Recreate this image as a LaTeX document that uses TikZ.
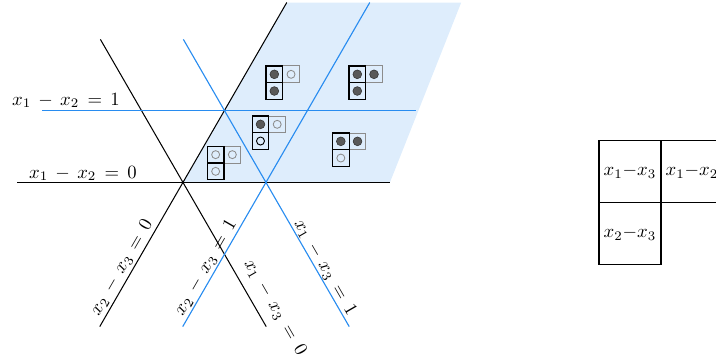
\documentclass[tikz,border=0pt]{standalone}
\usepackage{amsmath}
\usetikzlibrary{calc, positioning}
\definecolor{lineblue}{RGB}{40,140,240}
\definecolor{shadeblue}{RGB}{222,237,252}
\tikzset{wall/.style={line width=0.55pt}}
\tikzset{wallb/.style={line width=0.6pt, draw=lineblue}}
\tikzset{cellb/.style={draw=black, line width=0.65pt, minimum size=0.314cm, inner sep=0pt, outer sep=0pt}}
\tikzset{cellg/.style={draw=black!45, line width=0.5pt, minimum size=0.314cm, inner sep=0pt, outer sep=0pt}}
\tikzset{dotf/.style={circle, fill=black!65, draw=black!80, line width=0.3pt, minimum size=0.165cm, inner sep=0pt}}
\tikzset{doto/.style={circle, draw=black!45, line width=0.45pt, minimum size=0.15cm, inner sep=0pt}}
\tikzset{dotk/.style={circle, draw=black, line width=0.5pt, minimum size=0.15cm, inner sep=0pt}}
\tikzset{bigcell/.style={draw, line width=0.6pt, minimum size=1.165cm, inner sep=0pt, outer sep=0pt}}
% one (2,1) diagram: name, top left corner, three dots
\newcommand{\ydiag}[5]{%
    \coordinate (#1) at (#2);
    \node(#1-b)[cellg, anchor=north west, label={[#4]center:{}}] at ([xshift=0.314cm]#1) {};
    \node(#1-a)[cellb, anchor=north west, label={[#3]center:{}}] at (#1) {};
    \node(#1-c)[cellb, anchor=north west, label={[#5]center:{}}] at ([yshift=-0.314cm]#1) {};
}

\begin{document}
\begin{tikzpicture}

    \useasboundingbox (-3.44,-3.375) rectangle (10.02,3.43);

    % chamber
    \fill[shadeblue] (0,0) -- (1.951,3.383) -- (5.23,3.383) -- (3.89,0) -- cycle;

    % x1 - x2
    \coordinate (h0a) at (-3.12,0);
    \coordinate (h0b) at (3.89,0);
    \coordinate (h1a) at (-2.65,1.351);
    \coordinate (h1b) at (4.38,1.351);
    % x2 - x3
    \coordinate (a0a) at (-1.565,-2.71);
    \coordinate (a0b) at (1.951,3.383);
    \coordinate (a1a) at (-0.005,-2.71);
    \coordinate (a1b) at (3.511,3.383);
    % x1 - x3
    \coordinate (b0a) at (-1.553,2.69);
    \coordinate (b0b) at (1.565,-2.71);
    \coordinate (b1a) at (0.007,2.69);
    \coordinate (b1b) at (3.125,-2.71);

    \draw[wall] (h0a) -- (h0b);
    \draw[wall] (a0a) -- (a0b);
    \draw[wall] (b0a) -- (b0b);
    \draw[wallb] (h1a) -- (h1b);
    \draw[wallb] (a1a) -- (a1b);
    \draw[wallb] (b1a) -- (b1b);

    % labels
    \node(lh1) at (-2.20,1.54) {$x_1 \,-\, x_2 \,=\, 1$};
    \node(lh0) at (-1.88,0.17) {$x_1 \,-\, x_2 \,=\, 0$};
    \node(la0)[rotate=60] at (-1.15,-1.60) {$x_2 \,-\, x_3 \,=\, 0$};
    \node(la1)[rotate=60] at (0.43,-1.60) {$x_2 \,-\, x_3 \,=\, 1$};
    \node(lb0)[rotate=-60] at (1.73,-2.35) {$x_1 \,-\, x_3 \,=\, 0$};
    \node(lb1)[rotate=-60] at (2.67,-1.60) {$x_1 \,-\, x_3 \,=\, 1$};

    % diagrams in the chamber
    \ydiag{da}{1.56,2.19}{dotf}{doto}{dotf}
    \ydiag{db}{3.12,2.19}{dotf}{dotf}{dotf}
    \ydiag{dc}{1.30,1.25}{dotf}{doto}{dotk}
    \ydiag{dd}{0.457,0.68}{doto}{doto}{doto}
    \ydiag{de}{2.81,0.93}{dotf}{dotf}{doto}

    % roots tableau
    \node(t13)[bigcell, anchor=north west] at (7.82,0.79) {$x_1{-}x_3$};
    \node(t12)[bigcell, right=0pt of t13] {$x_1{-}x_2$};
    \node(t23)[bigcell, below=0pt of t13] {$x_2{-}x_3$};

\end{tikzpicture}
\end{document}
